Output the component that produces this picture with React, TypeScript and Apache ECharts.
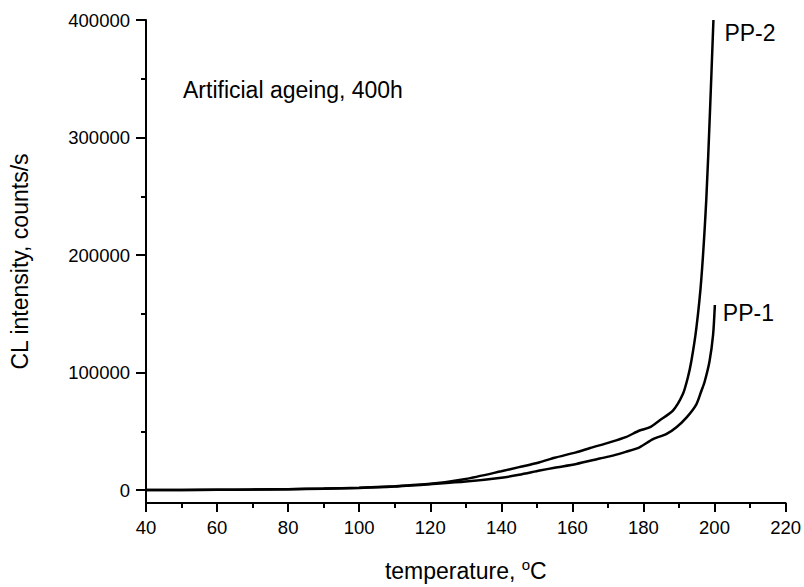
import React, { useEffect, useRef } from "react";
import * as echarts from "echarts";

const temps1 = [40, 50, 60, 70, 80, 90, 100, 110, 120, 130, 140, 145, 150.8, 155, 161.1, 167.7, 171.4, 175, 178.9, 182.7, 186.4, 189.2, 192.1, 194.9, 196.3, 197.2, 198.6, 199.6, 200.1];
const vals1 = [0, 100, 200, 400, 700, 1200, 1800, 3000, 5000, 7200, 10500, 13000, 16600, 19000, 22200, 26800, 29300, 32500, 36400, 43400, 47600, 53300, 61700, 73000, 84300, 92000, 109700, 132000, 157500];

const temps2 = [40, 50, 60, 70, 80, 90, 100, 110, 120, 130, 140, 145, 150.8, 155, 161, 165, 170.5, 175, 178.9, 181.7, 184.5, 188.3, 191.1, 192.5, 193.5, 194.9, 196.3, 197.7, 198.7, 199.7];
const vals2 = [0, 100, 250, 450, 800, 1300, 2000, 3300, 5300, 9500, 16000, 19500, 23700, 27500, 32100, 35800, 40600, 45000, 50700, 53300, 59200, 67600, 81700, 95800, 110000, 138000, 180000, 248000, 320000, 400000];

const yMajorTicks = [0, 100000, 200000, 300000, 400000];
const yMinorTicks = [0, 50000, 100000, 150000, 200000, 250000, 300000, 350000, 400000];

const FONT = "Liberation Sans, Arial, sans-serif";

export default function App() {
  const ref = useRef<HTMLDivElement>(null);
  useEffect(() => {
    if (!ref.current) return;
    const chart = echarts.init(ref.current, null, { renderer: "svg" });
    const zip = (xs: number[], ys: number[]) => xs.map((x, i) => [x, ys[i]]);
    chart.setOption({
      animation: false,
      backgroundColor: "#fff",
      textStyle: { fontFamily: FONT, color: "#000" },
      title: {
        text: "Artificial ageing, 400h",
        left: 178,
        top: 73,
        textStyle: { fontFamily: FONT, fontSize: 23, fontWeight: "normal", color: "#000" },
      },
      grid: { left: 146, right: 18, top: 20, bottom: 81 },
      xAxis: {
        type: "value",
        min: 40,
        max: 220,
        interval: 20,
        name: "temperature, {sup|o}C",
        nameLocation: "middle",
        nameGap: 54,
        nameTextStyle: {
          fontFamily: FONT,
          fontSize: 23,
          color: "#000",
          rich: { sup: { fontSize: 15, verticalAlign: "top", padding: [0, 0, 12, 0], fontFamily: FONT, color: "#000" } },
        },
        axisLine: { onZero: false, lineStyle: { color: "#000", width: 2 } },
        axisTick: { length: 9, inside: false, lineStyle: { color: "#000", width: 2 } },
        minorTick: { show: true, splitNumber: 2, length: 5, lineStyle: { color: "#000", width: 2 } },
        axisLabel: { fontFamily: FONT, fontSize: 18.5, color: "#000", margin: 15, formatter: (v: number) => String(v) },
        splitLine: { show: false },
      },
      yAxis: [
        {
          type: "value",
          min: -11000,
          max: 400000,
          position: "left",
          name: "CL intensity, counts/s",
          nameLocation: "middle",
          nameGap: 115,
          nameTextStyle: { fontFamily: FONT, fontSize: 23, color: "#000" },
          axisLine: { show: true, onZero: false, lineStyle: { color: "#000", width: 2 } },
          axisTick: { show: true, length: 10, customValues: yMajorTicks, lineStyle: { color: "#000", width: 2 } },
          axisLabel: { fontFamily: FONT, fontSize: 18.5, color: "#000", margin: 16, customValues: yMajorTicks, formatter: (v: number) => String(v) },
          splitLine: { show: false },
        },
        {
          type: "value",
          min: -11000,
          max: 400000,
          position: "left",
          axisLine: { show: false },
          axisTick: { show: true, length: 5, customValues: yMinorTicks, lineStyle: { color: "#000", width: 2 } },
          axisLabel: { show: false },
          splitLine: { show: false },
        },
      ],
      series: [
        {
          name: "PP-1",
          type: "line",
          data: zip(temps1, vals1),
          showSymbol: false,
          smooth: 0.25,
          lineStyle: { color: "#000", width: 2.5 },
          itemStyle: { color: "#000" },
          endLabel: { show: true, formatter: "{a}", offset: [0, 8], fontFamily: FONT, fontSize: 23, color: "#000" },
        },
        {
          name: "PP-2",
          type: "line",
          data: zip(temps2, vals2),
          showSymbol: false,
          smooth: 0.25,
          lineStyle: { color: "#000", width: 2.5 },
          itemStyle: { color: "#000" },
          endLabel: { show: true, formatter: "{a}", offset: [3, 13], fontFamily: FONT, fontSize: 23, color: "#000" },
        },
      ],
    });
    return () => chart.dispose();
  }, []);
  return <div ref={ref} style={{ position: "fixed", left: 0, top: 0, width: 804, height: 587 }} />;
}
